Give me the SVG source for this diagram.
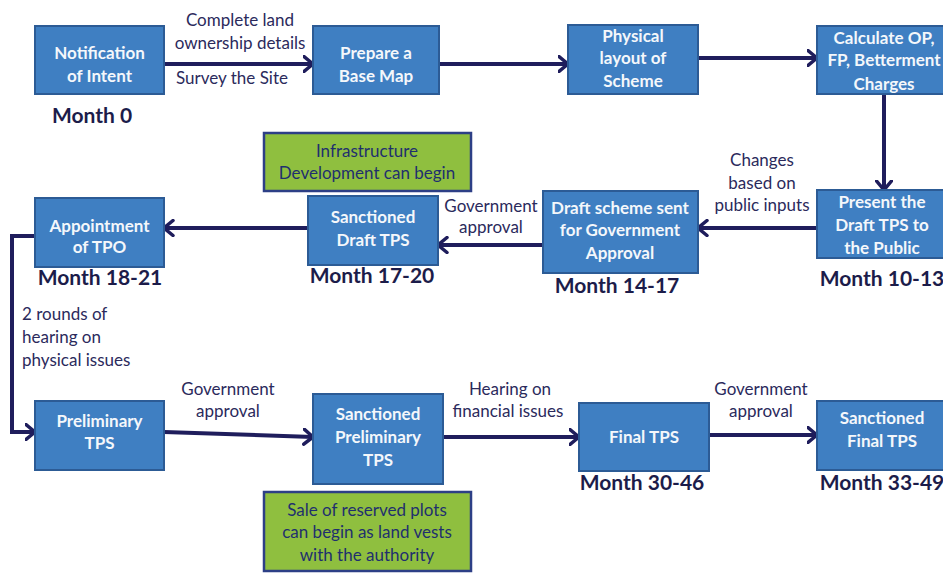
<svg xmlns="http://www.w3.org/2000/svg" width="943" height="573" viewBox="0 0 943 573">
<defs>
<style>
.box{fill:#3f7fc2;stroke:#2c5b95;stroke-width:2}
.gbox{fill:#8fbf3f;stroke:#2d3f86;stroke-width:2.5}
.bt{font-family:Lato,"Liberation Sans",sans-serif;font-weight:bold;font-size:17px;fill:#f4f7fb;text-anchor:middle}
.gt{font-family:Lato,"Liberation Sans",sans-serif;font-size:17px;fill:#1f2f6e;text-anchor:middle}
.lb{font-family:Lato,"Liberation Sans",sans-serif;font-size:17px;fill:#2b2a5c;text-anchor:middle}
.mo{font-family:Lato,"Liberation Sans",sans-serif;font-weight:bold;font-size:21px;fill:#1c1c4a;text-anchor:middle}
.cn{fill:none;stroke:#1f1d5c;stroke-width:4;marker-end:url(#ah)}
</style>
<marker id="ah" viewBox="0 0 12 18" refX="10.5" refY="9" markerWidth="12" markerHeight="18" markerUnits="userSpaceOnUse" orient="auto">
<path d="M1.5,1.5 L10.5,9 L1.5,16.5" fill="none" stroke="#1f1d5c" stroke-width="3.5" stroke-linecap="round" stroke-linejoin="round"/>
</marker>
</defs>
<rect width="943" height="573" fill="#ffffff"/>

<g id="connectors">
<path class="cn" d="M164,64 H313"/>
<path class="cn" d="M439,64 H568"/>
<path class="cn" d="M698,58 H817"/>
<path class="cn" d="M884,94 V190"/>
<path class="cn" d="M817,228 H698"/>
<path class="cn" d="M543,245 H438"/>
<path class="cn" d="M308,228 H164"/>
<path class="cn" d="M35,236 H12 V432 H35"/>
<path class="cn" d="M164,432 L313,437"/>
<path class="cn" d="M443,437 H579"/>
<path class="cn" d="M709,435 H817"/>
</g>

<g id="labels">
<text class="lb" x="240" y="26">Complete land</text>
<text class="lb" x="240" y="49">ownership details</text>
<text class="lb" x="232" y="84">Survey the Site</text>
<text class="lb" x="762" y="166">Changes</text>
<text class="lb" x="762" y="189">based on</text>
<text class="lb" x="762" y="211">public inputs</text>
<text class="lb" x="491" y="212">Government</text>
<text class="lb" x="491" y="233">approval</text>
<text class="lb" x="22" y="320" style="text-anchor:start">2 rounds of</text>
<text class="lb" x="22" y="343" style="text-anchor:start">hearing on</text>
<text class="lb" x="22" y="366" style="text-anchor:start">physical issues</text>
<text class="lb" x="228" y="395">Government</text>
<text class="lb" x="228" y="417">approval</text>
<text class="lb" x="510" y="395">Hearing on</text>
<text class="lb" x="508" y="417">financial issues</text>
<text class="lb" x="761" y="395">Government</text>
<text class="lb" x="761" y="417">approval</text>
</g>

<g id="n-notification">
<rect class="box" x="35" y="26" width="129" height="68"/>
<text class="bt" x="99.5" y="59">Notification</text>
<text class="bt" x="99.5" y="82">of Intent</text>
<text class="mo" x="92" y="123">Month 0</text>
</g>
<g id="n-basemap">
<rect class="box" x="313" y="26" width="126" height="68"/>
<text class="bt" x="376" y="59">Prepare a</text>
<text class="bt" x="376" y="82">Base Map</text>
</g>
<g id="n-layout">
<rect class="box" x="568" y="25" width="130" height="69"/>
<text class="bt" x="633" y="42">Physical</text>
<text class="bt" x="633" y="64">layout of</text>
<text class="bt" x="633" y="87">Scheme</text>
</g>
<g id="n-calculate">
<rect class="box" x="817" y="26" width="130" height="68"/>
<text class="bt" x="884" y="44">Calculate OP,</text>
<text class="bt" x="884" y="66">FP, Betterment</text>
<text class="bt" x="884" y="90">Charges</text>
</g>
<g id="n-infra">
<rect class="gbox" x="264" y="133" width="207" height="58"/>
<text class="gt" x="367" y="157">Infrastructure</text>
<text class="gt" x="367" y="179">Development can begin</text>
</g>
<g id="n-tpo">
<rect class="box" x="35" y="198" width="129" height="69"/>
<text class="bt" x="99.5" y="232">Appointment</text>
<text class="bt" x="99.5" y="253">of TPO</text>
<text class="mo" x="100" y="285">Month 18-21</text>
</g>
<g id="n-sanctioned-draft">
<rect class="box" x="308" y="196" width="130" height="69"/>
<text class="bt" x="373" y="223">Sanctioned</text>
<text class="bt" x="373" y="246">Draft TPS</text>
<text class="mo" x="372" y="283">Month 17-20</text>
</g>
<g id="n-draft-sent">
<rect class="box" x="543" y="191" width="155" height="82"/>
<text class="bt" x="620" y="214">Draft scheme sent</text>
<text class="bt" x="620" y="236">for Government</text>
<text class="bt" x="620" y="259">Approval</text>
<text class="mo" x="617" y="293">Month 14-17</text>
</g>
<g id="n-present">
<rect class="box" x="817" y="190" width="130" height="68"/>
<text class="bt" x="882" y="208">Present the</text>
<text class="bt" x="882" y="231">Draft TPS to</text>
<text class="bt" x="882" y="254">the Public</text>
<text class="mo" x="882" y="286">Month 10-13</text>
</g>
<g id="n-preliminary">
<rect class="box" x="35" y="401" width="129" height="69"/>
<text class="bt" x="99.5" y="427">Preliminary</text>
<text class="bt" x="99.5" y="449">TPS</text>
</g>
<g id="n-sanctioned-preliminary">
<rect class="box" x="313" y="394" width="130" height="90"/>
<text class="bt" x="378" y="420">Sanctioned</text>
<text class="bt" x="378" y="443">Preliminary</text>
<text class="bt" x="378" y="466">TPS</text>
</g>
<g id="n-sale">
<rect class="gbox" x="264" y="492" width="207" height="79"/>
<text class="gt" x="367" y="516">Sale of reserved plots</text>
<text class="gt" x="367" y="538">can begin as land vests</text>
<text class="gt" x="367" y="561">with the authority</text>
</g>
<g id="n-final">
<rect class="box" x="579" y="403" width="130" height="68"/>
<text class="bt" x="644" y="443">Final TPS</text>
<text class="mo" x="642" y="490">Month 30-46</text>
</g>
<g id="n-sanctioned-final">
<rect class="box" x="817" y="401" width="130" height="69"/>
<text class="bt" x="882" y="424">Sanctioned</text>
<text class="bt" x="882" y="447">Final TPS</text>
<text class="mo" x="882" y="490">Month 33-49</text>
</g>
</svg>
